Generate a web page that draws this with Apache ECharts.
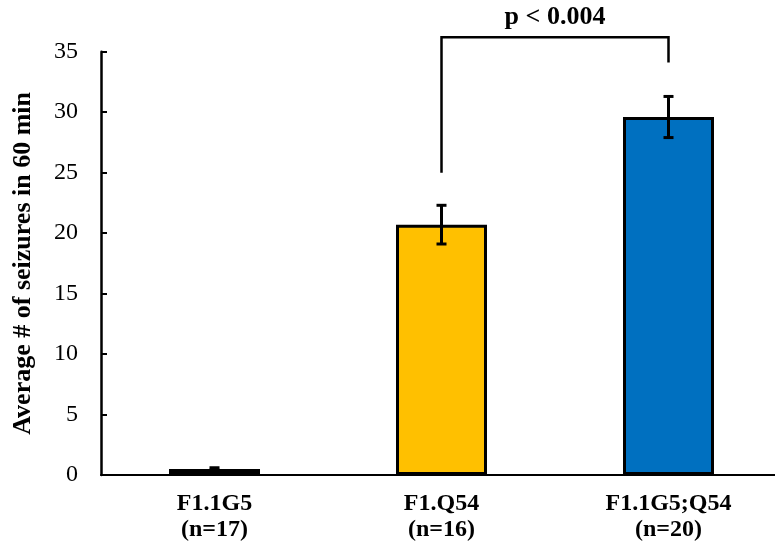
<!DOCTYPE html>
<html>
<head>
<meta charset="utf-8">
<script src="https://cdn.jsdelivr.net/npm/echarts@6/dist/echarts.min.js"></script>
<style>
  html, body { margin: 0; padding: 0; background: #fff; }
  #chart { width: 775px; height: 559px; }
</style>
</head>
<body>
<div id="chart"></div>
<script>
// Seizure counts per genotype (mean ± SEM over 60 min)
const categories = ['F1.1G5\n(n=17)', 'F1.Q54\n(n=16)', 'F1.1G5;Q54\n(n=20)'];
const means = [0.5, 20.7, 29.6];
const errors = [0.1, 1.6, 1.7];
const barColors = ['#000000', '#FFC000', '#0070C0'];
const yTicks = [0, 5, 10, 15, 20, 25, 30, 35];

// Significance bracket between group 2 and group 3
const bracketFrom = 1, bracketTo = 2;
const bracketTop = 36.2;
const bracketLegLow = [25.0, 34.1];
const pLabel = 'p < 0.004';

const serif = '"Liberation Serif", "Times New Roman", serif';
const chart = echarts.init(document.getElementById('chart'), null, { renderer: 'canvas' });

chart.setOption({
  animation: false,
  backgroundColor: '#ffffff',
  grid: { left: 101, top: 51.7, width: 681, bottom: 84, containLabel: false, outerBoundsMode: 'none' },
  xAxis: {
    type: 'category',
    data: categories,
    axisLine: { lineStyle: { color: '#000', width: 2 } },
    axisTick: { show: false },
    axisLabel: {
      color: '#000', fontFamily: serif, fontWeight: 'bold', fontSize: 24,
      lineHeight: 26, margin: 16
    }
  },
  yAxis: {
    type: 'value',
    min: yTicks[0], max: yTicks[yTicks.length - 1], interval: 5,
    name: 'Average # of seizures in 60 min',
    nameLocation: 'middle',
    nameGap: 65,
    nameTextStyle: { color: '#000', fontFamily: serif, fontWeight: 'bold', fontSize: 26 },
    axisLine: { show: true, lineStyle: { color: '#000', width: 2.5 } },
    axisTick: { show: true, inside: true, length: 6, lineStyle: { color: '#000', width: 2 } },
    splitLine: { show: false },
    axisLabel: { color: '#000', fontFamily: serif, fontSize: 24, margin: 23 }
  },
  series: [
    {
      type: 'bar',
      barWidth: 91,
      data: means.map((v, i) => ({
        value: v,
        itemStyle: { color: barColors[i], borderColor: '#000', borderWidth: 3 }
      })),
      z: 2
    },
    {
      // error bars
      type: 'custom',
      z: 5,
      clip: false,
      data: means.map((v, i) => [i, v, errors[i]]),
      renderItem: function (params, api) {
        const x = api.value(0), m = api.value(1), e = api.value(2);
        const hi = api.coord([x, m + e]);
        const lo = api.coord([x, m - e]);
        const cap = 10;
        const style = { stroke: '#000', lineWidth: 3 };
        return {
          type: 'group',
          children: [
            { type: 'line', shape: { x1: hi[0], y1: hi[1], x2: lo[0], y2: lo[1] }, style: style },
            { type: 'line', shape: { x1: hi[0] - cap / 2, y1: hi[1], x2: hi[0] + cap / 2, y2: hi[1] }, style: style },
            { type: 'line', shape: { x1: lo[0] - cap / 2, y1: lo[1], x2: lo[0] + cap / 2, y2: lo[1] }, style: style }
          ]
        };
      }
    },
    {
      // significance bracket and p-value
      type: 'custom',
      z: 5,
      clip: false,
      data: [[bracketFrom, bracketTo, bracketTop, bracketLegLow[0], bracketLegLow[1]]],
      renderItem: function (params, api) {
        const a = api.value(0), b = api.value(1), top = api.value(2);
        const pA = api.coord([a, top]);
        const pB = api.coord([b, top]);
        const lA = api.coord([a, api.value(3)]);
        const lB = api.coord([b, api.value(4)]);
        return {
          type: 'group',
          children: [
            {
              type: 'polyline',
              shape: { points: [[lA[0], lA[1]], [pA[0], pA[1]], [pB[0], pB[1]], [lB[0], lB[1]]] },
              style: { stroke: '#000', lineWidth: 2.5, fill: null }
            },
            {
              type: 'text',
              style: {
                text: pLabel, x: (pA[0] + pB[0]) / 2, y: pA[1] - 7,
                align: 'center', verticalAlign: 'bottom',
                font: 'bold 26px ' + serif, fill: '#000'
              }
            }
          ]
        };
      }
    }
  ]
});
</script>
</body>
</html>
